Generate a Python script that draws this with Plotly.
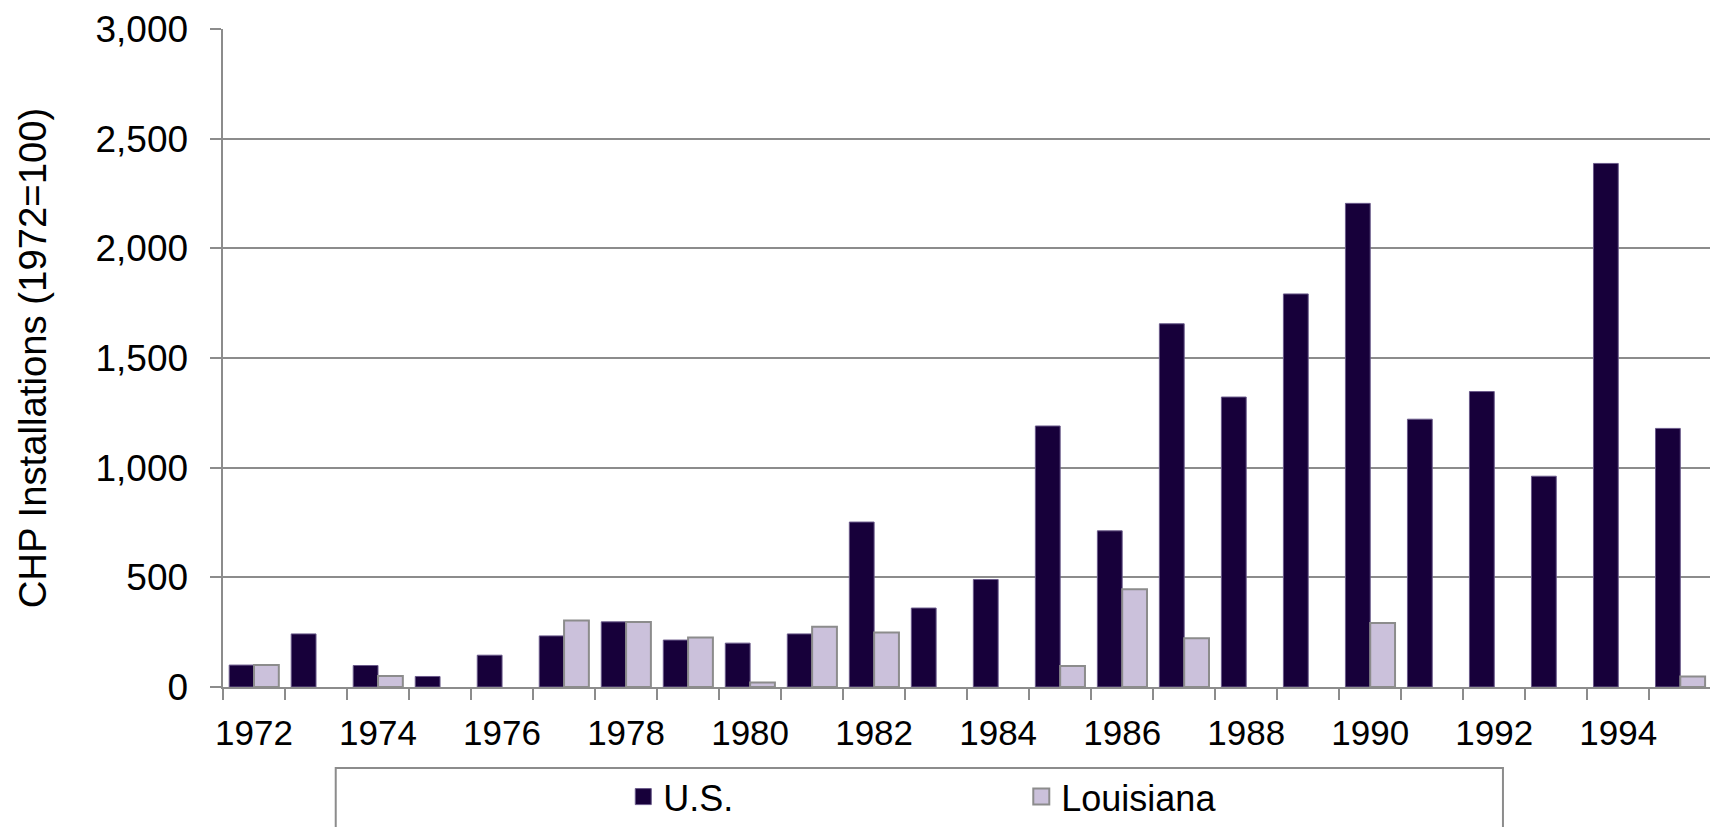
import plotly.graph_objects as go

years = list(range(1972, 1996))
us_values = [100, 242, 98, 48, 145, 233, 297, 214, 200, 242, 752, 360, 490, 1190,
             712, 1656, 1322, 1792, 2205, 1221, 1347, 961, 2387, 1179]
la_values = [100, None, 50, None, None, 303, 296, 226, 20, 275, 248, None, None, 96,
             446, 222, None, None, 292, None, None, None, None, 48]
tick_years = list(range(1972, 1996, 2))
y_ticks = [0, 500, 1000, 1500, 2000, 2500, 3000]

W, H = 1710, 827
L, R, T, B = 223.3, 0, 29.3, 133.7
pw, ph = W - L - R, H - T - B
cat_w = 62.0

US_COLOR, US_LINE = "#17003a", "#6a5a8a"
LA_COLOR, LA_LINE = "#cbc1db", "#8c8c8c"
GRID = "#8c8c8c"


def px_x(p):
    return (p - L) / pw


def px_y(p):
    return (H - B - p) / ph


FONT = "Liberation Sans, Arial, sans-serif"

fig = go.Figure()
fig.add_trace(go.Bar(x=years, y=us_values, name="U.S.", showlegend=False,
                     marker=dict(color=US_COLOR, line=dict(color=US_LINE, width=1))))
fig.add_trace(go.Bar(x=years, y=la_values, name="Louisiana", showlegend=False,
                     marker=dict(color=LA_COLOR, line=dict(color=LA_LINE, width=2))))
# legend keys
fig.add_trace(go.Scatter(x=[None], y=[None], mode="markers", name="U.S.",
                         marker=dict(symbol="square", size=18, color=US_COLOR,
                                     line=dict(color=US_LINE, width=1))))
fig.add_trace(go.Scatter(x=[None], y=[None], mode="markers", name="Louisiana",
                         marker=dict(symbol="square", size=18, color=LA_COLOR,
                                     line=dict(color=LA_LINE, width=2))))

fig.update_layout(
    width=W, height=H,
    margin=dict(l=L, r=R, t=T, b=B, pad=0),
    barmode="group", bargap=0.2, bargroupgap=0,
    plot_bgcolor="white", paper_bgcolor="white",
    font=dict(family=FONT, color="black", size=36),
    showlegend=True,
    legend=dict(orientation="h", x=px_x(623.5), xanchor="left", y=px_y(804), yanchor="middle",
                font=dict(size=36, family=FONT), entrywidth=353, entrywidthmode="pixels",
                bgcolor="rgba(0,0,0,0)", traceorder="normal", itemsizing="trace"),
)

fig.update_xaxes(
    type="linear", range=[1971.5, 1971.5 + pw / cat_w],
    tickmode="array", tickvals=tick_years, ticktext=[str(y) for y in tick_years],
    ticks="", ticklabelstandoff=14,
    tickfont=dict(size=35, family=FONT),
    showgrid=False, zeroline=False,
    showline=True, linecolor=GRID, linewidth=2,
    minor=dict(tickmode="linear", tick0=1971.5, dtick=1, ticks="outside", ticklen=11,
               tickcolor=GRID, tickwidth=2, showgrid=False),
)

fig.update_yaxes(
    range=[0, 3000], tickmode="array", tickvals=y_ticks,
    tickformat=",d",
    ticks="outside", ticklen=11.5, tickcolor=GRID, tickwidth=2, ticklabelstandoff=14,
    tickfont=dict(size=37, family=FONT),
    showgrid=True, gridcolor=GRID, gridwidth=2,
    zeroline=False, showline=True, linecolor=GRID, linewidth=2,
    title=dict(text="CHP Installations (1972=100)", font=dict(size=38.3, family=FONT), standoff=37),
    automargin=False,
)

fig.add_shape(type="rect", xref="paper", yref="paper",
              x0=px_x(336), x1=px_x(1503), y0=px_y(775), y1=px_y(845),
              line=dict(color=GRID, width=2), fillcolor="rgba(0,0,0,0)", layer="below")

fig.write_html("out.html", config={"displayModeBar": False},
               post_script="document.body.style.margin='0';")
